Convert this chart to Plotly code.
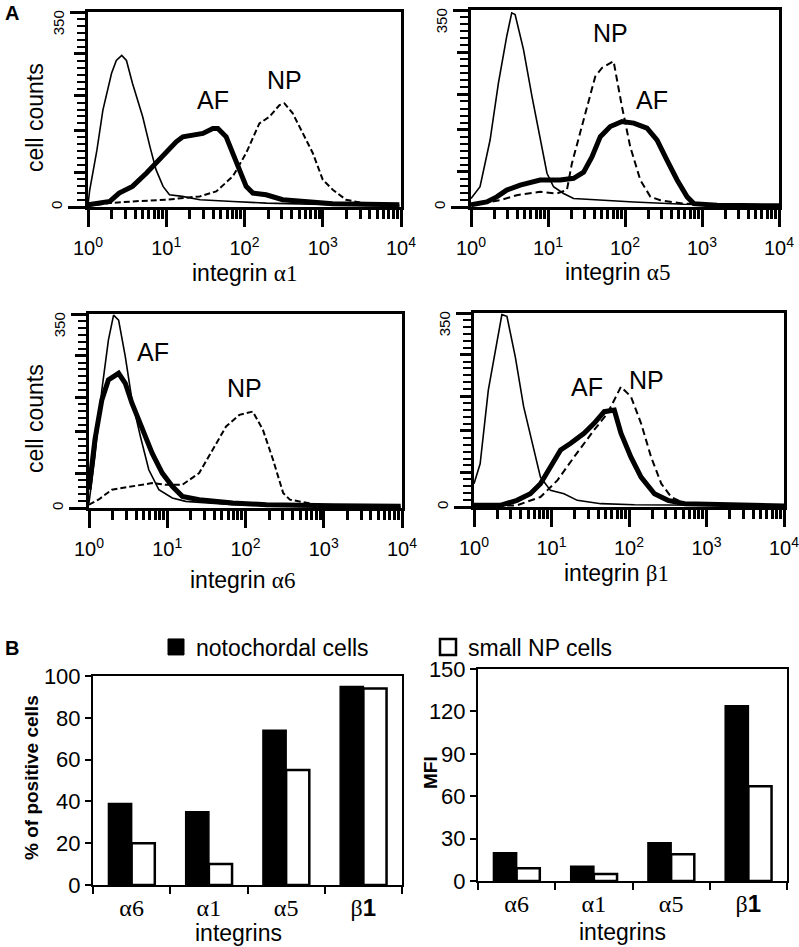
import math
import plotly.graph_objects as go

W, H = 799, 947
FONT = "Liberation Sans, Arial, sans-serif"
SERIF = "Liberation Serif, Times New Roman, serif"

# ---------------- Panel A: flow cytometry histograms ----------------
# x = fluorescence intensity, y = cell counts
a1_iso_x = [1.0, 1.05, 1.3, 1.55, 2.0, 2.3, 2.7, 3.1, 3.7, 5.0, 6.2, 7.4, 9.1, 11, 16, 27, 71, 190, 1350, 9500]
a1_iso_y = [4, 30, 102, 174, 240, 263, 272, 263, 222, 162, 108, 67, 37, 22, 19, 13, 10, 7, 4, 2]
a1_af_x = [1.0, 1.9, 2.5, 3.7, 5.6, 8.2, 11, 13.4, 16.3, 21.9, 29.4, 39.4, 45.7, 58.3, 71, 86.3, 105, 128, 189, 308, 504, 1343, 9530]
a1_af_y = [4, 10, 25, 37, 61, 85, 102, 117, 126, 129, 132, 141, 141, 126, 97, 67, 37, 25, 22, 13, 10, 6, 4]
a1_np_x = [1.0, 1.9, 3.7, 10, 26.7, 43.5, 71, 105, 155, 208, 280, 324, 414, 556, 745, 1000, 1343, 1986, 3573, 9530]
a1_np_y = [2, 7, 10, 13, 19, 28, 55, 97, 150, 162, 183, 186, 168, 132, 97, 49, 31, 13, 6, 3]

a2_iso_x = [1.0, 1.31, 1.77, 2.27, 2.91, 3.38, 3.74, 4.8, 6.2, 7.9, 9.7, 11.8, 15.9, 21.5, 47.8, 130, 581, 2594, 10000]
a2_iso_y = [15, 36, 119, 220, 303, 345, 342, 280, 196, 119, 60, 36, 24, 15, 12, 9, 5, 3, 2]
a2_af_x = [1.0, 1.6, 2.16, 2.91, 4.35, 7.9, 14.4, 21.5, 29, 37.2, 47.8, 64.4, 91.4, 130, 193, 261, 352, 475, 641, 783, 1574, 10000]
a2_af_y = [4, 9, 18, 30, 39, 48, 48, 51, 62, 89, 125, 143, 152, 149, 140, 119, 83, 48, 18, 6, 3, 2]
a2_np_x = [1.0, 2.38, 3.93, 7.9, 13, 17.6, 20.4, 26.2, 33.7, 41.1, 50.2, 71.1, 78.7, 91.4, 117, 158, 214, 288, 581, 10000]
a2_np_y = [3, 12, 21, 27, 24, 30, 77, 131, 190, 232, 247, 259, 226, 178, 107, 48, 18, 12, 6, 3]

a3_iso_x = [1.0, 1.19, 1.46, 1.77, 2.06, 2.39, 2.91, 3.54, 4.54, 5.81, 7.81, 11.6, 17.2, 31.2, 68.7, 496, 9620]
a3_iso_y = [9, 93, 213, 303, 348, 339, 273, 195, 129, 69, 33, 18, 12, 9, 6, 3, 2]
a3_af_x = [1.0, 1.19, 1.46, 1.77, 2.39, 2.91, 3.54, 4.76, 6.41, 8.63, 11.6, 15.6, 25.6, 68.7, 185, 1330, 9620]
a3_af_y = [33, 123, 195, 231, 243, 225, 189, 141, 99, 63, 39, 21, 15, 9, 6, 4, 3]
a3_np_x = [1.0, 1.32, 1.96, 3.54, 6.41, 9.5, 15.6, 25.6, 37.9, 56.4, 83.7, 124, 167, 225, 303, 369, 813, 9620]
a3_np_y = [6, 15, 33, 39, 45, 42, 42, 63, 105, 147, 168, 174, 141, 87, 27, 15, 6, 3]

a4_iso_x = [1.0, 1.2, 1.53, 1.97, 2.29, 2.66, 3.41, 4.37, 5.61, 7.2, 9.7, 14.5, 21.5, 43.3, 117, 2333, 10000]
a4_iso_y = [42, 78, 211, 301, 347, 344, 271, 181, 115, 54, 30, 24, 12, 6, 4, 2, 2]
a4_af_x = [1.0, 2.18, 3.58, 5.33, 7.2, 9.7, 13.1, 17.7, 26.3, 35.5, 47.9, 64.6, 78.7, 106, 143, 213, 318, 523, 2333, 10000]
a4_af_y = [3, 3, 12, 24, 42, 72, 103, 115, 133, 151, 172, 175, 133, 90, 54, 24, 12, 6, 3, 2]
a4_np_x = [1.0, 3.58, 7.2, 11.9, 19.5, 35.5, 52.8, 78.7, 106, 143, 193, 261, 351, 523, 10000]
a4_np_y = [2, 3, 18, 48, 90, 139, 169, 217, 199, 151, 90, 42, 18, 6, 2]

hist_titles = ["α1", "α5", "α6", "β1"]
x_major_vals = [1, 10, 100, 1000, 10000]
x_major_text = ["10<sup>0</sup>", "10<sup>1</sup>", "10<sup>2</sup>", "10<sup>3</sup>", "10<sup>4</sup>"]
x_minor_vals = [m * d for d in [1, 10, 100, 1000] for m in range(2, 10)]
y_max = 350
y_mid_vals = [62.5, 137.5, 200, 275]

# ---------------- Panel B: bar charts ----------------
integrins = ["α6", "α1", "α5", "β1"]
integrin_text = ["α6", "α1", "α5", 'β<span style="font-family:Liberation Sans"><b>1</b></span>']
pct_notochordal = [39, 35, 74, 95]
pct_small_np = [20, 10, 55, 94]
mfi_notochordal = [20, 10.5, 27, 124]
mfi_small_np = [9, 5, 19, 67]


def fx(p):
    return p / W


def fy(p):
    return 1 - p / H


fig = go.Figure()
annotations = []

hist_data = [
    (a1_iso_x, a1_iso_y, a1_af_x, a1_af_y, a1_np_x, a1_np_y),
    (a2_iso_x, a2_iso_y, a2_af_x, a2_af_y, a2_np_x, a2_np_y),
    (a3_iso_x, a3_iso_y, a3_af_x, a3_af_y, a3_np_x, a3_np_y),
    (a4_iso_x, a4_iso_y, a4_af_x, a4_af_y, a4_np_x, a4_np_y),
]
# pixel domains (left, right, top, bottom)
hist_dom = [(88, 401, 12, 207), (471, 779, 10, 207), (89, 402, 314, 508), (474, 784, 313, 507)]
hist_xtitle_pos = [(244, 273), (617, 272), (242, 580), (616, 573)]
np_dash = ["6px,3px", "7px,4px", "6px,3px", "7px,4px"]

layout_axes = {}
for i, (d, dom) in enumerate(zip(hist_data, hist_dom)):
    n = i + 1
    xa = "x" if n == 1 else f"x{n}"
    ya = "y" if n == 1 else f"y{n}"
    iso_x, iso_y, af_x, af_y, np_x, np_y = d
    fig.add_trace(go.Scatter(x=np_x, y=np_y, mode="lines", xaxis=xa, yaxis=ya, showlegend=False,
                             line=dict(color="black", width=2, dash=np_dash[i])))
    fig.add_trace(go.Scatter(x=iso_x, y=iso_y, mode="lines", xaxis=xa, yaxis=ya, showlegend=False,
                             line=dict(color="black", width=1.6)))
    fig.add_trace(go.Scatter(x=af_x, y=af_y, mode="lines", xaxis=xa, yaxis=ya, showlegend=False,
                             line=dict(color="black", width=5)))
    # empty traces so the overlaid tick-only axes get drawn
    for k in (6, 10):
        fig.add_trace(go.Scatter(x=[None], y=[None], mode="lines", xaxis=xa, yaxis=f"y{k + n}",
                                 showlegend=False, hoverinfo="skip"))
    l, r, t, b = dom
    layout_axes["xaxis" if n == 1 else f"xaxis{n}"] = dict(
        type="log", range=[0, 4], domain=[fx(l), fx(r)], anchor=ya, automargin=False,
        showline=True, linewidth=3, linecolor="black", mirror=True,
        showgrid=False, zeroline=False,
        ticks="outside", tickmode="array", tickvals=x_major_vals, ticktext=x_major_text,
        ticklen=17, tickwidth=3, tickcolor="black", ticklabeloverflow="allow", ticklabelstandoff=4,
        minor=dict(tickmode="array", tickvals=x_minor_vals, ticks="outside", ticklen=9, tickwidth=2.5,
                   tickcolor="black", showgrid=False),
        tickfont=dict(size=20, color="black"),
    )
    layout_axes["yaxis" if n == 1 else f"yaxis{n}"] = dict(
        range=[0, y_max], domain=[fy(b), fy(t)], anchor=xa, automargin=False,
        showline=True, linewidth=3, linecolor="black", mirror=True,
        showgrid=False, zeroline=False,
        ticks="outside", tickmode="array", tickvals=[0], ticktext=["0"], tickangle=-90,
        ticklen=17, tickwidth=2.5, tickcolor="black", ticklabeloverflow="allow",
        minor=dict(tickmode="linear", tick0=0, dtick=12.5, ticks="outside", ticklen=8, tickwidth=2,
                   tickcolor="black", showgrid=False),
        tickfont=dict(size=15, color="black"),
    )
    # medium-length ticks on the count axis
    layout_axes[f"yaxis{6 + n}"] = dict(
        overlaying=ya, anchor=xa, side="left", range=[0, y_max], automargin=False,
        showline=False, showgrid=False, zeroline=False, showticklabels=False,
        ticks="outside", tickmode="array", tickvals=y_mid_vals, ticklen=13, tickwidth=2.5, tickcolor="black",
    )
    # top tick with its label set just below it
    layout_axes[f"yaxis{10 + n}"] = dict(
        overlaying=ya, anchor=xa, side="left", range=[0, y_max], automargin=False,
        showline=False, showgrid=False, zeroline=False,
        ticks="outside", tickmode="array", tickvals=[y_max], ticktext=[str(y_max)], tickangle=-90,
        ticklen=17, tickwidth=2.5, tickcolor="black", ticklabelshift=13, ticklabeloverflow="allow",
        tickfont=dict(size=15, color="black"),
    )
    tx, ty = hist_xtitle_pos[i]
    annotations.append(dict(text=f'integrin <span style="font-family:{SERIF}">{hist_titles[i]}</span>',
                            x=fx(tx), y=fy(ty), xref="paper", yref="paper", xanchor="center", yanchor="middle",
                            showarrow=False, font=dict(size=23, color="black")))

for cy in (118, 419):
    annotations.append(dict(text="cell counts", x=fx(35), y=fy(cy), xref="paper", yref="paper",
                            xanchor="center", yanchor="middle", textangle=-90, showarrow=False,
                            font=dict(size=23, color="black")))

# peak labels (intensity, count)
peak_labels = [
    (1, "AF", 39, 192), (1, "NP", 324, 228),
    (2, "NP", 65, 309), (2, "AF", 224, 190),
    (3, "AF", 6.5, 281), (3, "NP", 98, 216),
    (4, "AF", 29, 216), (4, "NP", 170, 229),
]
for n, txt, xv, yv in peak_labels:
    annotations.append(dict(text=txt, x=math.log10(xv), y=yv, xref="x" if n == 1 else f"x{n}",
                            yref="y" if n == 1 else f"y{n}", showarrow=False,
                            font=dict(size=25, color="black")))

# ---------------- bar panels ----------------
bar_dom = [(93, 402, 676, 885), (478, 787, 669, 881)]
bar_series = [(pct_notochordal, pct_small_np, [0, 100], 20, "<b>% of positive cells</b>", (31, 778), (239, 933)),
              (mfi_notochordal, mfi_small_np, [0, 150], 30, "<b>MFI</b>", (430, 773), (622, 932))]
for j, ((l, r, t, b), (s1, s2, yr, dt, ytitle, ypos, xpos)) in enumerate(zip(bar_dom, bar_series)):
    n = 5 + j
    xa, ya = f"x{n}", f"y{n}"
    fig.add_trace(go.Bar(x=integrins, y=s1, xaxis=xa, yaxis=ya, showlegend=False,
                         marker=dict(color="black", line=dict(color="black", width=1.5)),
                         legendgroup="noto"))
    fig.add_trace(go.Bar(x=integrins, y=s2, xaxis=xa, yaxis=ya, showlegend=False,
                         marker=dict(color="white", line=dict(color="black", width=2.5)),
                         legendgroup="small"))
    layout_axes[f"xaxis{n}"] = dict(
        domain=[fx(l), fx(r)], anchor=ya, type="category", automargin=False,
        showline=True, linewidth=2, linecolor="black", mirror=True, showgrid=False,
        ticks="outside", tickson="boundaries", ticklen=7, tickwidth=2, tickcolor="black",
        tickmode="array", tickvals=integrins, ticktext=integrin_text,
        tickfont=dict(size=24, family=SERIF, color="black"),
    )
    layout_axes[f"yaxis{n}"] = dict(
        domain=[fy(b), fy(t)], anchor=xa, range=yr, dtick=dt, tick0=0, automargin=False,
        showline=True, linewidth=2, linecolor="black", mirror=True, showgrid=False, zeroline=False,
        ticks="outside", ticklen=6, tickwidth=2, tickcolor="black", ticklabeloverflow="allow",
        tickfont=dict(size=22, color="black"),
    )
    annotations.append(dict(text=ytitle, x=fx(ypos[0]), y=fy(ypos[1]), xref="paper", yref="paper",
                            xanchor="center", yanchor="middle", textangle=-90, showarrow=False,
                            font=dict(size=19, color="black")))
    annotations.append(dict(text="integrins", x=fx(xpos[0]), y=fy(xpos[1]), xref="paper", yref="paper",
                            xanchor="center", yanchor="middle", showarrow=False,
                            font=dict(size=23, color="black")))

# legend entries
fig.add_trace(go.Scatter(x=[None], y=[None], mode="markers", name="notochordal cells", legendgroup="noto",
                         marker=dict(symbol="square", size=16, color="black", line=dict(color="black", width=1)),
                         xaxis="x5", yaxis="y5", legend="legend"))
fig.add_trace(go.Scatter(x=[None], y=[None], mode="markers", name="small NP cells", legendgroup="small",
                         marker=dict(symbol="square", size=16, color="white", line=dict(color="black", width=2.5)),
                         xaxis="x6", yaxis="y6", legend="legend2"))

annotations.append(dict(text="<b>A</b>", x=fx(3), y=fy(13), xref="paper", yref="paper", xanchor="left",
                        yanchor="middle", showarrow=False, font=dict(size=20, color="black")))
annotations.append(dict(text="<b>B</b>", x=fx(3), y=fy(648), xref="paper", yref="paper", xanchor="left",
                        yanchor="middle", showarrow=False, font=dict(size=20, color="black")))

fig.update_layout(
    template="none",
    width=W, height=H, margin=dict(l=0, r=0, t=0, b=0, autoexpand=False),
    paper_bgcolor="white", plot_bgcolor="white",
    font=dict(family=FONT, color="black"),
    barmode="group", bargap=0.4, bargroupgap=0,
    annotations=annotations,
    legend=dict(x=fx(156), y=fy(647), xanchor="left", yanchor="middle", bgcolor="rgba(0,0,0,0)",
                borderwidth=0, font=dict(size=23, color="black")),
    legend2=dict(x=fx(428), y=fy(647), xanchor="left", yanchor="middle", bgcolor="rgba(0,0,0,0)",
                 borderwidth=0, font=dict(size=23, color="black")),
    **layout_axes,
)

fig.write_html("out.html", config={"displayModeBar": False},
               post_script="document.body.style.margin='0px';document.body.style.overflow='hidden';")
